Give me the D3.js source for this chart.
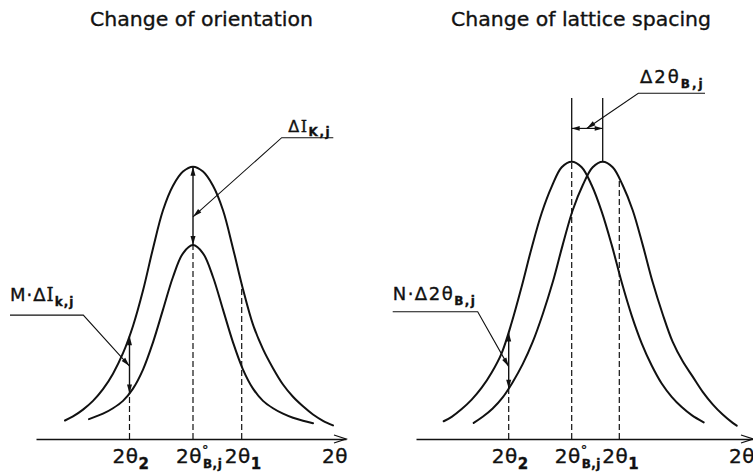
<!DOCTYPE html>
<html>
<head>
<meta charset="utf-8">
<script src="https://cdn.jsdelivr.net/npm/d3@7"></script>
<style>
  html, body { margin: 0; padding: 0; background: #fff; }
  svg { display: block; font-family: "DejaVu Sans", sans-serif; }
  text { stroke: #111; stroke-width: 0.35px; paint-order: stroke; }
</style>
</head>
<body>
<svg id="chart" width="753" height="476"></svg>
<script>
// ---------------------------------------------------------------------------
// Data
// x: 2θ offset from the Bragg position (arbitrary units)
// y: diffracted intensity (percent of the undisturbed peak)
// ---------------------------------------------------------------------------
const panelTitles = ["Change of orientation", "Change of lattice spacing"];

// Orientation change: same Bragg angle, lower peak intensity
const orientOuter = [
  [-12.8, 6.8], [-12, 8.3], [-11, 10.8], [-10, 14.0], [-9, 18.3],
  [-8, 24.0], [-7, 31.5], [-6, 41.5], [-5, 54.5], [-4, 70.0],
  [-3, 84.0], [-2, 93.0], [-1, 98.2], [0, 100], [1, 98.2],
  [2, 93.0], [3, 84.0], [4, 70.0], [5, 55.0], [6, 42.0],
  [7, 33.0], [8, 26.0], [9, 20.0], [10, 15.5], [11, 12.0],
  [12, 9.0], [13, 6.7], [14, 5.0]
];
const orientInner = [
  [-10.4, 7.3], [-9, 9.3], [-8, 11.3], [-7, 14.0], [-6, 18.5],
  [-5, 25.5], [-4, 35.5], [-3, 47.5], [-2, 59.5], [-1, 68.2],
  [0, 71.2], [1, 68.2], [2, 59.5], [3, 47.5], [4, 35.5],
  [5, 25.5], [6, 18.5], [7, 14.0], [8, 11.3], [9, 9.3],
  [10, 7.8], [11, 6.7], [12, 5.8]
];
// Marked angles: 2θ2, 2θ°B,j, 2θ1
const orientMarks = [-6.35, 0, 4.87];

// Lattice spacing change: same profile, shifted Bragg angle
const spacingFirst = [
  [-12.8, 6.4], [-12, 8.0], [-11, 10.8], [-10, 14.2], [-9, 18.5],
  [-8, 24.0], [-7, 31.0], [-6, 42.0], [-5, 55.0], [-4, 69.0],
  [-3, 81.5], [-2, 91.0], [-1, 98.0], [0, 100], [1, 98.0],
  [2, 91.5], [3, 82.0], [4, 70.0], [5, 56.5], [6, 44.5],
  [7, 34.5], [8, 26.5], [9, 20.0], [10, 15.2], [11, 11.5],
  [12, 8.6], [13.2, 6.0]
];
const spacingShifted = [
  [-9.8, 5.8], [-8.9, 8.0], [-7.9, 11.0], [-6.9, 15.0], [-5.9, 20.5],
  [-4.9, 27.0], [-3.9, 35.0], [-2.9, 45.0], [-1.9, 56.5], [-0.9, 70.0],
  [0.1, 82.5], [1.1, 91.5], [2.1, 98.0], [3.1, 100], [4.1, 98.0],
  [5.1, 91.5], [6.1, 82.5], [7.1, 70.0], [8.1, 56.5], [9.1, 45.0],
  [10.1, 35.0], [11.1, 28.0], [12.1, 22.5], [13.1, 17.0], [14.1, 12.5],
  [15.1, 8.8], [16.1, 5.8], [16.5, 4.8]
];
const spacingPeaks = [0, 3.1];
const spacingMarks = [-6.3, 0, 4.76];

// Tick labels for the marked angles: [main, superscript, subscript]
const markLabels = [["2θ", "", "2"], ["2θ", "°", "B,j"], ["2θ", "", "1"]];
const axisName = "2θ";

// ---------------------------------------------------------------------------
// Layout
// ---------------------------------------------------------------------------
const ink = "#111";
const baseY = 439;
const svg = d3.select("#chart");

const L = {
  x: d3.scaleLinear().domain([-15.7, 15.3]).range([36, 346]),
  y: d3.scaleLinear().domain([0, 100]).range([baseY, 166.7])
};
const R = {
  x: d3.scaleLinear().domain([-15.57, 18.13]).range([416, 753]),
  y: d3.scaleLinear().domain([0, 100]).range([baseY, 161.7])
};

function addCurve(g, sc, data) {
  const line = d3.line()
    .x(d => sc.x(d[0])).y(d => sc.y(d[1]))
    .curve(d3.curveCatmullRom.alpha(0.5));
  return g.append("path").datum(data).attr("d", line)
    .attr("fill", "none").attr("stroke", ink)
    .attr("stroke-width", 2).attr("stroke-linecap", "round").node();
}

// Screen y of a drawn profile at screen x (profiles run left to right)
function curveYAt(node, px) {
  let lo = 0, hi = node.getTotalLength();
  for (let i = 0; i < 40; i++) {
    const m = (lo + hi) / 2;
    if (node.getPointAtLength(m).x < px) lo = m; else hi = m;
  }
  return node.getPointAtLength((lo + hi) / 2).y;
}

function head(g, tip, from, len = 9, half = 2.5) {
  const a = Math.atan2(tip[1] - from[1], tip[0] - from[0]);
  const bx = tip[0] - len * Math.cos(a), by = tip[1] - len * Math.sin(a);
  const nx = -Math.sin(a) * half, ny = Math.cos(a) * half;
  g.append("path")
    .attr("d", `M${tip[0]},${tip[1]}L${bx + nx},${by + ny}L${bx - nx},${by - ny}Z`)
    .attr("fill", ink);
}

function segment(g, p, q, w = 1.3, dash = null) {
  const s = g.append("line")
    .attr("x1", p[0]).attr("y1", p[1]).attr("x2", q[0]).attr("y2", q[1])
    .attr("stroke", ink).attr("stroke-width", w);
  if (dash) s.attr("stroke-dasharray", dash);
  return s;
}

function dashed(g, x, y0, y1) { segment(g, [x, y0], [x, y1], 1.2, "6,3"); }

function doubleArrow(g, x, yA, yB) {
  segment(g, [x, yA], [x, yB], 1.4);
  head(g, [x, yA], [x, yB]);
  head(g, [x, yB], [x, yA]);
}

function leader(g, pts) {
  g.append("path").attr("d", d3.line()(pts))
    .attr("fill", "none").attr("stroke", ink).attr("stroke-width", 1.1);
  head(g, pts[pts.length - 1], pts[pts.length - 2], 9, 2.4);
}

function richText(g, x, y, parts, size, ls = 0) {
  const t = g.append("text").attr("x", x).attr("y", y).attr("fill", ink)
    .style("font-size", size + "px").style("letter-spacing", ls + "px");
  let shift = 0;
  parts.forEach(p => {
    const s = t.append("tspan").text(p.t);
    const target = p.dy || 0;
    s.attr("dy", target - shift);
    shift = target;
    if (p.dx) s.attr("dx", p.dx);
    if (p.size) s.style("font-size", p.size + "px");
    if (p.bold) s.style("font-weight", "bold");
    if (p.family) s.style("font-family", p.family);
  });
  return t;
}

function drawAxis(g, sc, marks) {
  const ax = g.append("g").attr("transform", `translate(0,${baseY})`)
    .call(d3.axisBottom(sc.x).tickValues([]).tickSizeOuter(0));
  ax.select(".domain").attr("stroke", ink).attr("stroke-width", 1.6);
  const x1 = sc.x.range()[1];
  g.append("path")
    .attr("d", `M${x1 - 12},${baseY - 4}L${x1},${baseY}L${x1 - 12},${baseY + 4}`)
    .attr("fill", "none").attr("stroke", ink).attr("stroke-width", 1.3);

  marks.forEach((m, i) => {
    const [main, sup, sub] = markLabels[i];
    const parts = [{ t: main }];
    if (sup) {
      parts.push({ t: sup, size: 13, dy: -9 });
      parts.push({ t: sub, size: 12, bold: true, dy: 5, dx: -6 });
    } else {
      parts.push({ t: sub, size: 15, bold: true, dy: 6 });
    }
    richText(g, sc.x(m) - 17, 462.7, parts, 20, 0.5);
  });
  richText(g, x1 - 24, 462.7, [{ t: axisName }], 20, 0.5);
}

function title(g, text, x, len) {
  g.append("text").attr("x", x).attr("y", 26).attr("fill", ink)
    .attr("textLength", len).attr("lengthAdjust", "spacingAndGlyphs")
    .style("font-size", "20px").text(text);
}

// ---------------------------------------------------------------------------
// Left panel: change of orientation
// ---------------------------------------------------------------------------
const gL = svg.append("g");
title(gL, panelTitles[0], 90, 223);
const outerNode = addCurve(gL, L, orientOuter);
const innerNode = addCurve(gL, L, orientInner);
drawAxis(gL, L, orientMarks);
{
  const [m2, mB, m1] = orientMarks.map(L.x);
  const in2 = curveYAt(innerNode, m2), out2 = curveYAt(outerNode, m2);
  dashed(gL, m2, baseY, in2);
  doubleArrow(gL, m2, in2, out2);

  const inB = curveYAt(innerNode, mB), outB = curveYAt(outerNode, mB);
  dashed(gL, mB, baseY, inB);
  doubleArrow(gL, mB, inB, outB);

  dashed(gL, m1, baseY, curveYAt(outerNode, m1));

  // ΔI label with leader to the peak-height arrow
  leader(gL, [[L.x(14.03), L.y(110.65)], [L.x(8.87), L.y(110.65)], [mB, L.y(81.6)]]);
  richText(gL, L.x(9.53), L.y(112.9), [
    { t: "Δ" }, { t: "I", family: "DejaVu Serif" },
    { t: "K,j", size: 12, bold: true, dy: 4 }
  ], 16, 1.5);

  // M·ΔI label with leader to the flank arrow
  leader(gL, [[L.x(-18.3), L.y(45.5)], [L.x(-10.97), L.y(45.5)], [m2, L.y(26.8)]]);
  richText(gL, L.x(-18.3), L.y(50.8), [
    { t: "M·Δ" }, { t: "I", family: "DejaVu Serif" },
    { t: "k,j", size: 12, bold: true, dy: 5 }
  ], 18, 1);
}

// ---------------------------------------------------------------------------
// Right panel: change of lattice spacing
// ---------------------------------------------------------------------------
const gR = svg.append("g");
title(gR, panelTitles[1], 451, 260);
const firstNode = addCurve(gR, R, spacingFirst);
const shiftNode = addCurve(gR, R, spacingShifted);
drawAxis(gR, R, spacingMarks);
{
  const [n2, nB, n1] = spacingMarks.map(R.x);
  const lo2 = curveYAt(shiftNode, n2), hi2 = curveYAt(firstNode, n2);
  dashed(gR, n2, baseY, lo2);
  doubleArrow(gR, n2, lo2, hi2);
  dashed(gR, nB, baseY, curveYAt(firstNode, nB));
  dashed(gR, n1, baseY, curveYAt(shiftNode, n1));

  // extension lines above the two peaks and the Δ2θ dimension
  const nodes = [firstNode, shiftNode];
  const px = spacingPeaks.map(R.x);
  px.forEach((x, i) => segment(gR, [x, curveYAt(nodes[i], x)], [x, R.y(123)], 1.3));
  const dimY = R.y(112);
  segment(gR, [px[0], dimY], [px[1], dimY], 1.2);
  head(gR, [px[0], dimY], [px[1], dimY], 8, 2.3);
  head(gR, [px[1], dimY], [px[0], dimY], 8, 2.3);

  leader(gR, [[R.x(13.33), R.y(124.7)], [R.x(6.66), R.y(124.7)], [R.x(1.5), dimY]]);
  richText(gR, R.x(6.83), R.y(128.5), [
    { t: "Δ2θ" }, { t: "B,j", size: 12, bold: true, dy: 5 }
  ], 18, 2);

  leader(gR, [[R.x(-17.9), R.y(45.9)], [R.x(-9.4), R.y(45.9)], [n2, R.y(26.1)]]);
  richText(gR, R.x(-17.9), R.y(50.1), [
    { t: "N·Δ2θ" }, { t: "B,j", size: 12, bold: true, dy: 5 }
  ], 18, 1.5);
}
</script>
</body>
</html>
